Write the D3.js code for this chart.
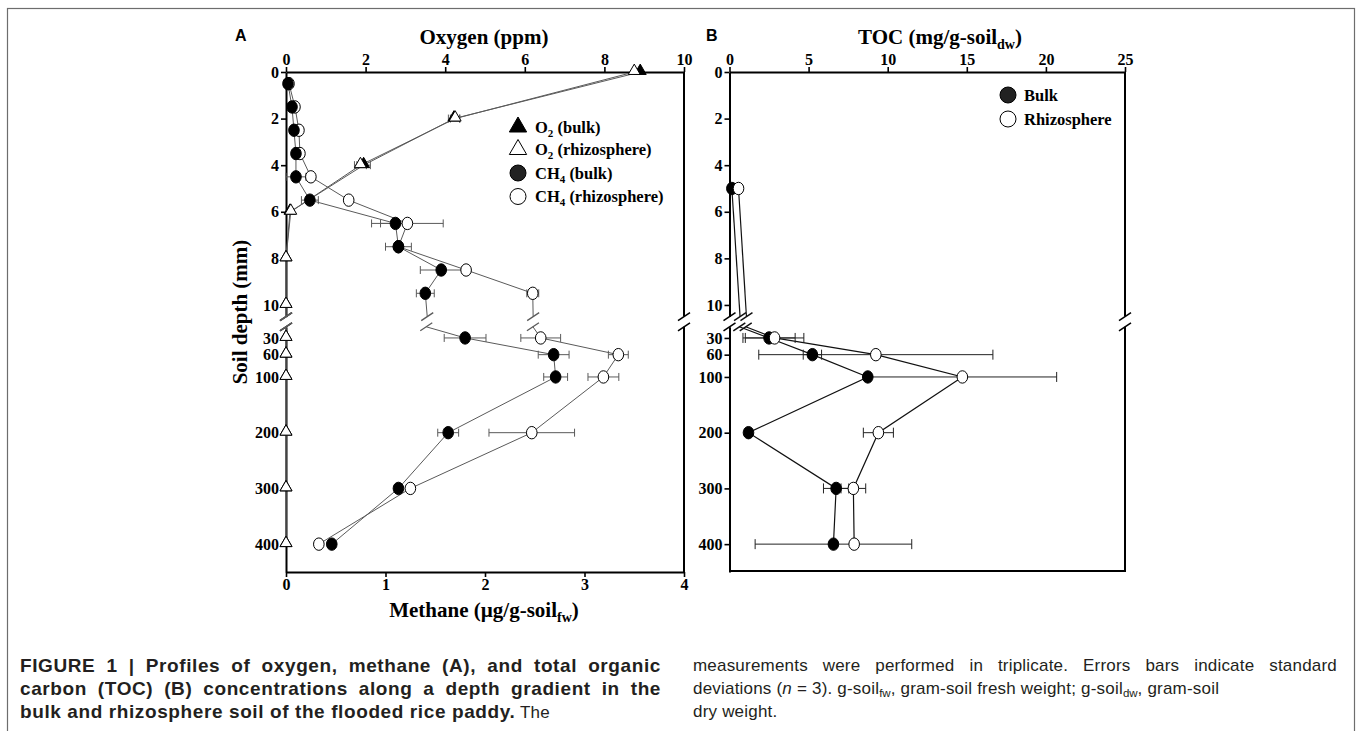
<!DOCTYPE html>
<html><head><meta charset="utf-8">
<script src="https://cdn.jsdelivr.net/npm/d3@7"></script>
<style>
body{margin:0;background:#fff;overflow:hidden;}
svg{position:absolute;left:0;top:0;}
.cap{position:absolute;font-family:"Liberation Sans",Arial,sans-serif;font-size:17px;letter-spacing:0.2px;color:#231f20;white-space:nowrap;line-height:20px;}
.just{text-align:justify;text-align-last:justify;white-space:normal;}
.b{font-weight:bold;font-size:19px;letter-spacing:0.6px;}
sub{font-size:11.5px;vertical-align:-3px;line-height:0;letter-spacing:0;}
</style></head><body>
<svg id="chart" width="1358" height="731"></svg>
<script>
// ---------------- data ----------------
const o2Depths   = [0, 2, 4, 6, 8, 10, 30, 60, 100, 200, 300, 400];
const o2Bulk     = [8.9, 4.22, 1.95, 0.1, 0, 0, 0, 0, 0, 0, 0, 0];
const o2BulkErr  = [0, 0.14, 0.17, 0, 0, 0, 0, 0, 0, 0, 0, 0];
const o2Rhizo    = [8.75, 4.25, 1.87, 0.12, 0, 0, 0, 0, 0, 0, 0, 0];
const o2RhizoErr = [0, 0.12, 0.15, 0, 0, 0, 0, 0, 0, 0, 0, 0];

const ch4Depths   = [0.5, 1.5, 2.5, 3.5, 4.5, 5.5, 6.5, 7.5, 8.5, 9.5, 30, 60, 100, 200, 300, 400];
const ch4Bulk     = [0.02, 0.06, 0.08, 0.10, 0.10, 0.24, 1.10, 1.13, 1.56, 1.40, 1.80, 2.69, 2.71, 1.63, 1.13, 0.46];
const ch4BulkErr  = [0, 0, 0, 0, 0.10, 0.085, 0.15, 0.13, 0.21, 0.09, 0.21, 0.155, 0.12, 0.105, 0, 0];
const ch4Rhizo    = [0.03, 0.09, 0.13, 0.14, 0.25, 0.63, 1.22, 1.13, 1.81, 2.48, 2.56, 3.34, 3.19, 2.47, 1.25, 0.33];
const ch4RhizoErr = [0, 0, 0, 0, 0, 0, 0.36, 0, 0, 0.06, 0.20, 0.10, 0.155, 0.43, 0, 0];

const tocDepths   = [5, 30, 60, 100, 200, 300, 400];
const tocBulk     = [0.15, 2.5, 5.24, 8.74, 1.2, 6.74, 6.57];
const tocBulkErr  = [0, 1.65, 0.58, 0, 0, 0.8, 4.95];
const tocRhizo    = [0.57, 2.85, 9.25, 14.72, 9.41, 7.83, 7.88];
const tocRhizoErr = [0, 1.85, 7.4, 5.96, 0.95, 0.78, 0];

const depthTicksTop = [0, 2, 4, 6, 8, 10];
const depthTicksBot = [30, 60, 100, 200, 300, 400];
const oxygenTicks  = [0, 2, 4, 6, 8, 10];
const methaneTicks = [0, 1, 2, 3, 4];
const tocTicks     = [0, 5, 10, 15, 20, 25];

// ---------------- scales ----------------
const BT = 10.5, BB = 10;   // broken axis: upper segment ends at BT, lower starts at BB
const yTop = d3.scaleLinear().domain([0, BT]).range([72, 316.6]);
const yBot = d3.scaleLinear().domain([BB, 450]).range([326.8, 572]);
const yOf = p => p.s === 'b' ? yBot(p.d) : yTop(p.d);
const seg = d => d <= BT ? 't' : 'b';

const xO = d3.scaleLinear().domain([0, 10]).range([286, 684]);
const xM = d3.scaleLinear().domain([0, 4]).range([286, 684]);
const xT = d3.scaleLinear().domain([0, 25]).range([729.5, 1125]);

const svg = d3.select('#chart');
const SERIF = '"Liberation Serif","Times New Roman",serif';
const fmt = d3.format('d');

// outer frame
svg.append('rect').attr('x', 7.5).attr('y', 8.5).attr('width', 1347).attr('height', 800)
  .attr('fill', 'none').attr('stroke', '#6d6d6d').attr('stroke-width', 1.2);

// split a series into upper/lower polylines with break ends
function splitSeries(vals, depths) {
  const parts = []; let cur = [];
  const breaks = [];
  for (let i = 0; i < vals.length; i++) {
    const p = {v: vals[i], d: depths[i], s: seg(depths[i])};
    if (i > 0) {
      const q = {v: vals[i-1], d: depths[i-1], s: seg(depths[i-1])};
      if (q.s === 't' && p.s === 'b') {
        const vt = q.v + (BT - q.d) / (p.d - q.d) * (p.v - q.v);
        const vb = q.v + (BB - q.d) / (p.d - q.d) * (p.v - q.v);
        const e1 = {v: vt, d: BT, s: 't'}, e2 = {v: vb, d: BB, s: 'b'};
        cur.push(e1); parts.push(cur); cur = [e2];
        breaks.push(e1, e2);
      }
    }
    cur.push(p);
  }
  parts.push(cur);
  return {parts, breaks};
}

function slash(g, x, y, color, w) {
  g.append('line').attr('x1', x - 6).attr('y1', y + 4).attr('x2', x + 6).attr('y2', y - 4)
    .attr('stroke', color).attr('stroke-width', w);
}

function drawLine(g, xs, vals, depths, color, w) {
  const {parts, breaks} = splitSeries(vals, depths);
  const line = d3.line().x(p => xs(p.v)).y(yOf);
  parts.forEach(pt => g.append('path').attr('d', line(pt)).attr('fill', 'none')
    .attr('stroke', color).attr('stroke-width', w));
  breaks.forEach(b => slash(g, xs(b.v), yOf(b), color, w + 0.3));
}

function drawErr(g, xs, vals, errs, depths, color, cap) {
  vals.forEach((v, i) => {
    if (!errs[i]) return;
    const yy = yOf({d: depths[i], s: seg(depths[i])});
    const x1 = xs(v - errs[i]), x2 = xs(v + errs[i]);
    g.append('line').attr('x1', x1).attr('x2', x2).attr('y1', yy).attr('y2', yy).attr('stroke', color).attr('stroke-width', 1);
    [x1, x2].forEach(x => g.append('line').attr('x1', x).attr('x2', x).attr('y1', yy - cap).attr('y2', yy + cap)
      .attr('stroke', color).attr('stroke-width', 1));
  });
}

function drawCircles(g, xs, vals, depths, fill) {
  g.selectAll(null).data(vals).enter().append('ellipse')
    .attr('cx', v => xs(v))
    .attr('cy', (v, i) => yOf({d: depths[i], s: seg(depths[i])}))
    .attr('rx', 5.3).attr('ry', 6.2)
    .attr('fill', fill).attr('stroke', '#000').attr('stroke-width', 1);
}

const tri = d3.symbol().type(d3.symbolTriangle).size(62);
function drawTris(g, xs, vals, depths, fill) {
  g.selectAll(null).data(vals).enter().append('path')
    .attr('d', tri)
    .attr('transform', (v, i) => `translate(${xs(v)},${yOf({d: depths[i], s: seg(depths[i])}) - 1})`)
    .attr('fill', fill).attr('stroke', '#000').attr('stroke-width', 1);
}

function styleAxis(sel) {
  sel.attr('font-family', SERIF).attr('font-size', 16).attr('font-weight', 'bold');
  sel.selectAll('.domain').attr('stroke', '#000').attr('stroke-width', 2);
  sel.selectAll('.tick line').attr('stroke', '#000').attr('stroke-width', 1.6);
  sel.selectAll('.tick text').attr('font-family', SERIF).attr('font-weight', 'bold')
    .attr('font-size', 16).attr('fill', '#000');
}

function depthAxes(x0) {
  const a1 = svg.append('g').attr('transform', `translate(${x0},0)`)
    .call(d3.axisLeft(yTop).tickValues(depthTicksTop).tickFormat(fmt).tickSize(5).tickSizeOuter(0).tickPadding(2));
  const a2 = svg.append('g').attr('transform', `translate(${x0},0)`)
    .call(d3.axisLeft(yBot).tickValues(depthTicksBot).tickFormat(fmt).tickSize(5).tickSizeOuter(0).tickPadding(2));
  styleAxis(a1); styleAxis(a2);
  slash(svg, x0, yTop(BT), '#000', 1.6);
  slash(svg, x0, yBot(BB), '#000', 1.6);
}
function rightBorder(x0) {
  svg.append('line').attr('x1', x0).attr('x2', x0).attr('y1', 72).attr('y2', yTop(BT)).attr('stroke', '#000').attr('stroke-width', 2);
  svg.append('line').attr('x1', x0).attr('x2', x0).attr('y1', yBot(BB)).attr('y2', 572).attr('stroke', '#000').attr('stroke-width', 2);
  slash(svg, x0, yTop(BT), '#000', 1.6);
  slash(svg, x0, yBot(BB), '#000', 1.6);
}

// ---------------- panel A ----------------
const topA = svg.append('g').attr('transform', 'translate(0,72)')
  .call(d3.axisTop(xO).tickValues(oxygenTicks).tickFormat(fmt).tickSize(5).tickSizeOuter(0).tickPadding(2));
styleAxis(topA);
const botA = svg.append('g').attr('transform', 'translate(0,572)')
  .call(d3.axisBottom(xM).tickValues(methaneTicks).tickFormat(fmt).tickSize(5).tickSizeOuter(0).tickPadding(2));
styleAxis(botA);
depthAxes(286);
rightBorder(684);

const gA = svg.append('g');
const LC = '#5a5a5a';
drawLine(gA, xO, o2Bulk, o2Depths, LC, 1);
drawLine(gA, xO, o2Rhizo, o2Depths, LC, 1);
drawLine(gA, xM, ch4Bulk, ch4Depths, LC, 1);
drawLine(gA, xM, ch4Rhizo, ch4Depths, LC, 1);
drawErr(gA, xO, o2Bulk, o2BulkErr, o2Depths, LC, 4);
drawErr(gA, xO, o2Rhizo, o2RhizoErr, o2Depths, LC, 4);
drawErr(gA, xM, ch4Rhizo, ch4RhizoErr, ch4Depths, LC, 4);
drawErr(gA, xM, ch4Bulk, ch4BulkErr, ch4Depths, LC, 4);
drawTris(gA, xO, o2Bulk, o2Depths, '#000');
drawTris(gA, xO, o2Rhizo, o2Depths, '#fff');
drawCircles(gA, xM, ch4Rhizo, ch4Depths, '#fff');
drawCircles(gA, xM, ch4Bulk, ch4Depths, '#000');

// titles A
svg.append('text').attr('x', 235).attr('y', 41).text('A')
  .attr('font-family', '"Liberation Sans",Arial,sans-serif').attr('font-weight', 'bold').attr('font-size', 16);
svg.append('text').attr('x', 484).attr('y', 44).attr('text-anchor', 'middle').text('Oxygen (ppm)')
  .attr('font-family', SERIF).attr('font-weight', 'bold').attr('font-size', 21);
const mt = svg.append('text').attr('x', 484).attr('y', 617).attr('text-anchor', 'middle')
  .attr('font-family', SERIF).attr('font-weight', 'bold').attr('font-size', 21);
mt.append('tspan').text('Methane (µg/g-soil');
mt.append('tspan').text('fw').attr('font-size', 14).attr('dy', 5);
mt.append('tspan').text(')').attr('dy', -5);
svg.append('text').attr('transform', 'translate(247,312) rotate(-90)').attr('text-anchor', 'middle')
  .text('Soil depth (mm)').attr('font-family', SERIF).attr('font-weight', 'bold').attr('font-size', 21);

// legend A
const legA = [
  {sym: 'tri', fill: '#000', main: 'O', sub: '2', rest: ' (bulk)'},
  {sym: 'tri', fill: '#fff', main: 'O', sub: '2', rest: ' (rhizosphere)'},
  {sym: 'cir', fill: '#222', main: 'CH', sub: '4', rest: ' (bulk)'},
  {sym: 'cir', fill: '#fff', main: 'CH', sub: '4', rest: ' (rhizosphere)'}
];
const legY = [127, 149.5, 173, 196.5];
legA.forEach((e, i) => {
  const yy = legY[i];
  if (e.sym === 'tri') {
    svg.append('path').attr('d', d3.symbol().type(d3.symbolTriangle).size(130))
      .attr('transform', `translate(518,${yy})`).attr('fill', e.fill).attr('stroke', '#000').attr('stroke-width', 1);
  } else {
    svg.append('circle').attr('cx', 518).attr('cy', yy).attr('r', 8)
      .attr('fill', e.fill).attr('stroke', '#000').attr('stroke-width', 1);
  }
  const t = svg.append('text').attr('x', 535).attr('y', yy + 5.5)
    .attr('font-family', SERIF).attr('font-weight', 'bold').attr('font-size', 16.5);
  t.append('tspan').text(e.main);
  t.append('tspan').text(e.sub).attr('font-size', 11).attr('dy', 4);
  t.append('tspan').text(e.rest).attr('dy', -4);
});

// ---------------- panel B ----------------
const topB = svg.append('g').attr('transform', 'translate(0,72)')
  .call(d3.axisTop(xT).tickValues(tocTicks).tickFormat(fmt).tickSize(5).tickSizeOuter(0).tickPadding(2));
styleAxis(topB);
svg.append('line').attr('x1', 729.5).attr('x2', 1125).attr('y1', 571).attr('y2', 571).attr('stroke', '#000').attr('stroke-width', 2);
depthAxes(729.5);
rightBorder(1125);

const gB = svg.append('g');
drawLine(gB, xT, tocBulk, tocDepths, '#111', 1.2);
drawLine(gB, xT, tocRhizo, tocDepths, '#111', 1.2);
drawErr(gB, xT, tocBulk, tocBulkErr, tocDepths, '#222', 5);
drawErr(gB, xT, tocRhizo, tocRhizoErr, tocDepths, '#222', 5);
drawCircles(gB, xT, tocBulk, tocDepths, '#000');
drawCircles(gB, xT, tocRhizo, tocDepths, '#fff');

svg.append('text').attr('x', 706).attr('y', 41).text('B')
  .attr('font-family', '"Liberation Sans",Arial,sans-serif').attr('font-weight', 'bold').attr('font-size', 16);
const tt = svg.append('text').attr('x', 940).attr('y', 44).attr('text-anchor', 'middle')
  .attr('font-family', SERIF).attr('font-weight', 'bold').attr('font-size', 21);
tt.append('tspan').text('TOC (mg/g-soil');
tt.append('tspan').text('dw').attr('font-size', 14).attr('dy', 5);
tt.append('tspan').text(')').attr('dy', -5);

const legB = [{fill: '#222', label: 'Bulk'}, {fill: '#fff', label: 'Rhizosphere'}];
[95, 119].forEach((yy, i) => {
  svg.append('circle').attr('cx', 1008).attr('cy', yy).attr('r', 8)
    .attr('fill', legB[i].fill).attr('stroke', '#000').attr('stroke-width', 1);
  svg.append('text').attr('x', 1024).attr('y', yy + 5.5).text(legB[i].label)
    .attr('font-family', SERIF).attr('font-weight', 'bold').attr('font-size', 16.5);
});

// ---------------- caption ----------------
const capLines = [
  {x: 20, y: 656, w: 641, just: true,  html: '<span class="b">FIGURE 1 | Profiles of oxygen, methane (A), and total organic</span>'},
  {x: 20, y: 679, w: 641, just: true,  html: '<span class="b">carbon (TOC) (B) concentrations along a depth gradient in the</span>'},
  {x: 20, y: 702, w: 641, just: false, html: '<span class="b">bulk and rhizosphere soil of the flooded rice paddy.</span> The'},
  {x: 693, y: 656, w: 644, just: true,  html: 'measurements were performed in triplicate. Errors bars indicate standard'},
  {x: 693, y: 679, w: 644, just: false, html: 'deviations (<i>n</i> = 3). g-soil<sub>fw</sub>, gram-soil fresh weight; g-soil<sub>dw</sub>, gram-soil'},
  {x: 693, y: 702, w: 644, just: false, html: 'dry weight.'}
];
capLines.forEach(c => {
  d3.select('body').append('div').attr('class', 'cap' + (c.just ? ' just' : ''))
    .style('left', c.x + 'px').style('top', c.y + 'px').style('width', c.w + 'px').html(c.html);
});
</script>
</body></html>
